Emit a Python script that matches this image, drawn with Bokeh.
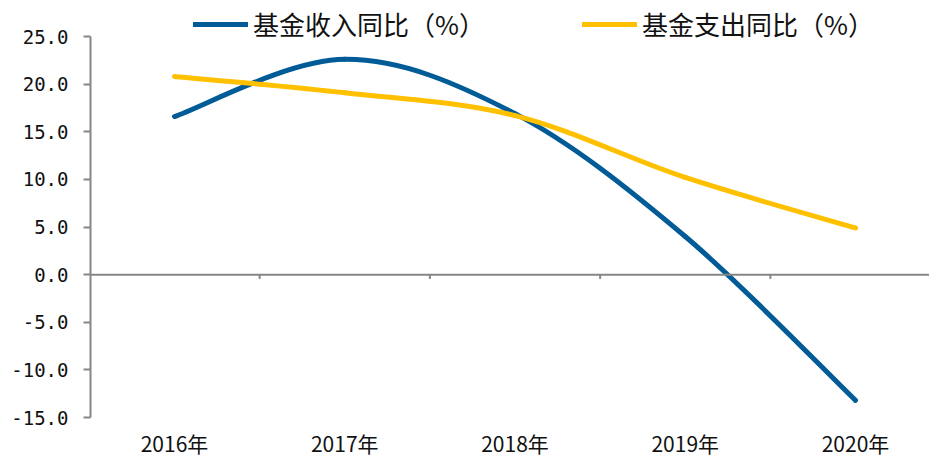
from bokeh.plotting import figure
from bokeh.models import FixedTicker, Span, Legend, LegendItem
from bokeh.core.properties import value
from bokeh.embed import file_html
from bokeh.resources import INLINE

years = [2016, 2017, 2018, 2019, 2020]
year_labels = ["2016年", "2017年", "2018年", "2019年", "2020年"]
income = [16.6, 22.6, 16.9, 4.0, -13.2]
expense = [20.8, 19.1, 16.7, 10.2, 4.9]
income_name = "基金收入同比（%）"
expense_name = "基金支出同比（%）"
y_ticks = [-15, -10, -5, 0, 5, 10, 15, 20, 25]

BLUE = "#005B97"
YELLOW = "#FFC000"
GREY = "#868686"

# layout (pixels)
W, H = 929, 457
LEFT = 90
TOP_PX, BOTTOM_PX = 36, 417          # pixel rows of the top and bottom y ticks
X_FIRST_PX, X_LAST_PX = 174, 855     # pixel columns of first / last category

ppu = (BOTTOM_PX - TOP_PX) / (y_ticks[-1] - y_ticks[0])
y_end = y_ticks[-1] + TOP_PX / ppu
y_start = y_ticks[0] - (H - BOTTOM_PX) / ppu
ppx = (X_LAST_PX - X_FIRST_PX) / (years[-1] - years[0])
x_start = years[0] - (X_FIRST_PX - LEFT) / ppx
x_end = years[-1] + (W - X_LAST_PX) / ppx


def smooth(xs, ys):
    n = len(xs)
    out = dict(x0=[], y0=[], x1=[], y1=[], cx0=[], cy0=[], cx1=[], cy1=[])
    for i in range(n - 1):
        a = i - 1 if i > 0 else i
        d = i + 2 if i + 2 < n else i + 1
        out["x0"].append(xs[i]); out["y0"].append(ys[i])
        out["x1"].append(xs[i + 1]); out["y1"].append(ys[i + 1])
        out["cx0"].append(xs[i] + (xs[i + 1] - xs[a]) / 6)
        out["cy0"].append(ys[i] + (ys[i + 1] - ys[a]) / 6)
        out["cx1"].append(xs[i + 1] - (xs[d] - xs[i]) / 6)
        out["cy1"].append(ys[i + 1] - (ys[d] - ys[i]) / 6)
    return out


p = figure(width=W, height=H, output_backend="svg", toolbar_location=None,
           x_range=(x_start, x_end), y_range=(y_start, y_end),
           min_border=0, min_border_left=LEFT, min_border_right=0,
           min_border_top=0, min_border_bottom=0)
p.outline_line_color = None
p.xgrid.visible = False
p.ygrid.visible = False
p.xaxis.visible = False

# y axis
p.yaxis.bounds = (y_ticks[0], y_ticks[-1])
p.yaxis.ticker = FixedTicker(ticks=y_ticks)
p.yaxis.major_label_overrides = {v: f"{v:.1f}" for v in y_ticks}
p.yaxis.axis_line_color = GREY
p.yaxis.axis_line_width = 2
p.yaxis.major_tick_line_color = GREY
p.yaxis.major_tick_line_width = 2
p.yaxis.major_tick_in = 0
p.yaxis.major_tick_out = 7
p.yaxis.minor_tick_line_color = None
p.yaxis.major_label_text_font = "DejaVu Sans Mono"
p.yaxis.major_label_text_font_size = "19px"
p.yaxis.major_label_text_color = "#111111"
p.yaxis.major_label_standoff = 15

# category labels under the plot
p.text(x=years, y=[y_ticks[0]] * len(years), text=year_labels, y_offset=25,
       text_align="center", text_baseline="middle",
       text_font=value("Noto Sans CJK SC"), text_font_size="21px", text_color="#111111")

# horizontal axis line at zero with small ticks between categories
p.add_layout(Span(location=0, dimension="width", line_color=GREY, line_width=2))
bounds = [y + 0.5 for y in years[:-1]]
p.segment(x0=bounds, y0=[0] * len(bounds), x1=bounds, y1=[-0.45] * len(bounds),
          line_color=GREY, line_width=2)

r_inc = p.bezier(**smooth(years, income), line_color=BLUE, line_width=5, line_cap="round")
r_exp = p.bezier(**smooth(years, expense), line_color=YELLOW, line_width=5, line_cap="round")

for name, r, xloc in [(income_name, r_inc, 193 - LEFT), (expense_name, r_exp, 582 - LEFT)]:
    lg = Legend(items=[LegendItem(label=name, renderers=[r])], location=(xloc, H - 27 - 15),
                padding=0, margin=0, spacing=0, border_line_alpha=0, background_fill_alpha=0,
                glyph_width=55, glyph_height=30, label_height=30, label_standoff=5,
                label_text_font="Noto Sans CJK SC", label_text_font_size="26px",
                label_text_color="#111111")
    p.add_layout(lg, "center")

open("out.html", "w").write(file_html(p, INLINE))
